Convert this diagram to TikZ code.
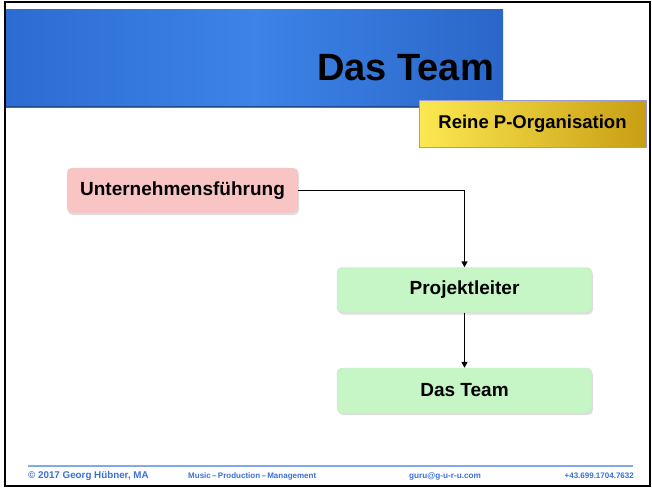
\documentclass[tikz,border=0pt]{standalone}
\usepackage{fontspec}
\setmainfont{Liberation Sans}
\usetikzlibrary{shadows,arrows.meta}
\definecolor{bannerA}{HTML}{2C6CD2}
\definecolor{bannerB}{HTML}{3D83E8}
\definecolor{pinkbox}{HTML}{F8C4C4}
\definecolor{greenbox}{HTML}{C6F5C6}
\definecolor{footblue}{HTML}{3A70D8}
\definecolor{footline}{HTML}{82AAEA}
\definecolor{goldA}{HTML}{FCE852}
\definecolor{goldB}{HTML}{C89E12}
\tikzset{
  orgbox/.style={rectangle, rounded corners=5pt, inner sep=0pt, minimum width=255pt, minimum height=45pt,
    font=\bfseries\fontsize{19}{22}\selectfont, draw=black!15, line width=0.4pt,
    drop shadow={opacity=0.25, shadow xshift=1pt, shadow yshift=-2pt}},
  link/.style={line width=1.4pt, -{Triangle[length=6pt,width=6pt]}},
  foot/.style={text=footblue, inner sep=0pt, anchor=base west}
}
\begin{document}
\begin{tikzpicture}[x=1pt,y=-1pt]
\useasboundingbox (0,0) rectangle (652,488);
\fill[white] (0,0) rectangle (652,488);
% banner
\shade[left color=bannerA, right color=bannerA!95!black, middle color=bannerB] (6,9) rectangle (503,107);
\draw[bannerA!70!black, line width=0.8pt] (6,106.5) -- (503,106.5);
\node[anchor=base east, inner sep=0pt, font=\bfseries\fontsize{38}{44}\selectfont] (title) at (494,80) {Das Team};
% yellow label
\node[rectangle, draw=black!35!blue!40, line width=0.6pt, left color=goldA, right color=goldB,
  minimum width=227pt, minimum height=47pt, inner sep=0pt, font=\bfseries\fontsize{18.5}{22}\selectfont]
  (label) at (532.5,123.5) {Reine P-Organisation};
% boxes
\node[orgbox, fill=pinkbox, minimum width=231pt] (uf) at (182.5,190.5) {Unternehmensführung};
\node[orgbox, fill=greenbox] (pl) at (464.5,290) {Projektleiter};
\node[orgbox, fill=greenbox] (dt) at (464.5,390.5) {Das Team};
\draw[link] (uf.east) -| (pl.north);
\draw[link] (pl.south) -- (dt.north);
% footer
\coordinate (fl1) at (28,466);
\coordinate (fl2) at (633,466);
\draw[footline, line width=1.2pt] (fl1) -- (fl2);
\node[foot, font=\bfseries\fontsize{9.8}{11}\selectfont] (f1) at (28,478.5) {© 2017 Georg Hübner, MA};
\node[foot, font=\bfseries\fontsize{8}{10}\selectfont] (f2) at (188,478.5) {Music\,–\,Production\,–\,Management};
\node[foot, font=\bfseries\fontsize{8.2}{10}\selectfont] (f3) at (409,478.5) {guru@g-u-r-u.com};
\node[foot, font=\bfseries\fontsize{8}{10}\selectfont, anchor=base east] (f4) at (634,478.5) {+43.699.1704.7632};
% frame
\draw[black, line width=2pt] (5,2) rectangle (650,486);
\end{tikzpicture}
\end{document}
